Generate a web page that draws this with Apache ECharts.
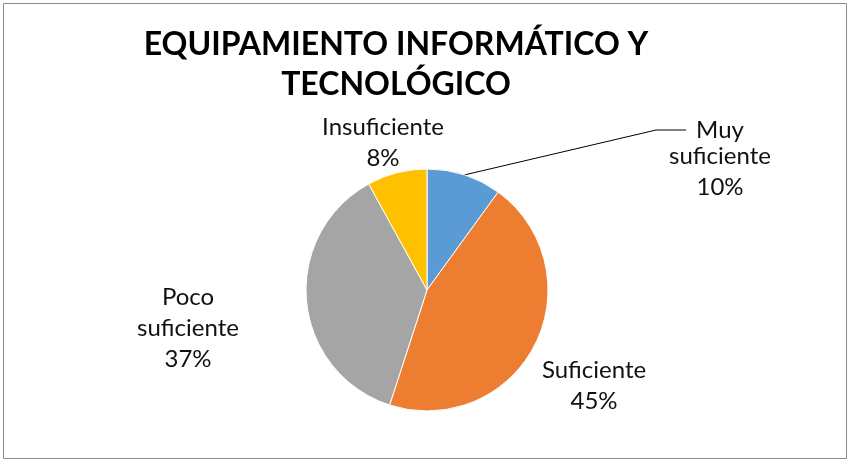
<!DOCTYPE html>
<html><head><meta charset="utf-8">
<script src="https://cdn.jsdelivr.net/npm/echarts@6/dist/echarts.min.js"></script>
<style>html,body{margin:0;padding:0;background:#fff}#c{width:850px;height:462px}</style>
</head><body><div id="c"></div>
<script>
const titleText = 'EQUIPAMIENTO INFORMÁTICO Y\nTECNOLÓGICO';
const categories = ['Muy suficiente', 'Suficiente', 'Poco suficiente', 'Insuficiente'];
// first line of each label (attached to the leader line), rest of the label
const labelHeads = ['Muy', 'Suficiente', 'Poco\nsuficiente', 'Insuficiente'];
const labelTails = ['suficiente', '', '', ''];
const values = [10, 45, 37, 8];
const colors = ['#5B9BD5', '#ED7D31', '#A5A5A5', '#FFC000'];

const labelPos = [
  {x: 715, y: 130},
  {x: 594, y: 386},
  {x: 188, y: 328},
  {x: 383, y: 143}
];
const tailPos = {x: 720, y: 172};
const LABEL_FONT = {fontFamily: 'Lato', fontSize: 24, color: '#111', lineHeight: 31};

const chart = echarts.init(document.getElementById('c'), null, {renderer: 'canvas'});
chart.setOption({
  animation: false,
  backgroundColor: '#fff',
  graphic: [{
    type: 'rect', shape: {x: 3.5, y: 3.5, width: 843, height: 455},
    style: {fill: 'none', stroke: '#8c8c8c', lineWidth: 1}, silent: true, z: -1
  }, {
    type: 'text', x: tailPos.x, y: tailPos.y, silent: true,
    style: {
      text: labelTails[0] + '\n' + values[0] + '%',
      align: 'center', verticalAlign: 'middle',
      fontFamily: 'Lato', fontSize: 24, lineHeight: 31, fill: '#111'
    }
  }],
  title: {
    text: titleText, left: 391, top: 20, textAlign: 'center',
    textStyle: {fontFamily: 'Lato', fontWeight: 'bold', fontSize: 32, color: '#000', lineHeight: 40}
  },
  series: [{
    type: 'pie',
    center: [427, 290],
    radius: [0, 121],
    startAngle: 90,
    clockwise: true,
    itemStyle: {borderColor: '#fff', borderWidth: 1},
    label: Object.assign({
      show: true,
      formatter: p => p.dataIndex === 0 ? labelHeads[0] : labelHeads[p.dataIndex] + '\n' + p.value + '%',
      align: 'center'
    }, LABEL_FONT),
    labelLine: {show: false},
    labelLayout: p => ({x: labelPos[p.dataIndex].x, y: labelPos[p.dataIndex].y, align: 'center', verticalAlign: 'middle'}),
    data: categories.map((c, i) => ({
      name: c, value: values[i], itemStyle: {color: colors[i]},
      label: i === 0 ? {padding: [0, 0, 8, 10]} : {},
      labelLine: i === 0 ? {show: true, lineStyle: {color: '#000', width: 1}} : {show: false}
    }))
  }]
});
</script></body></html>
